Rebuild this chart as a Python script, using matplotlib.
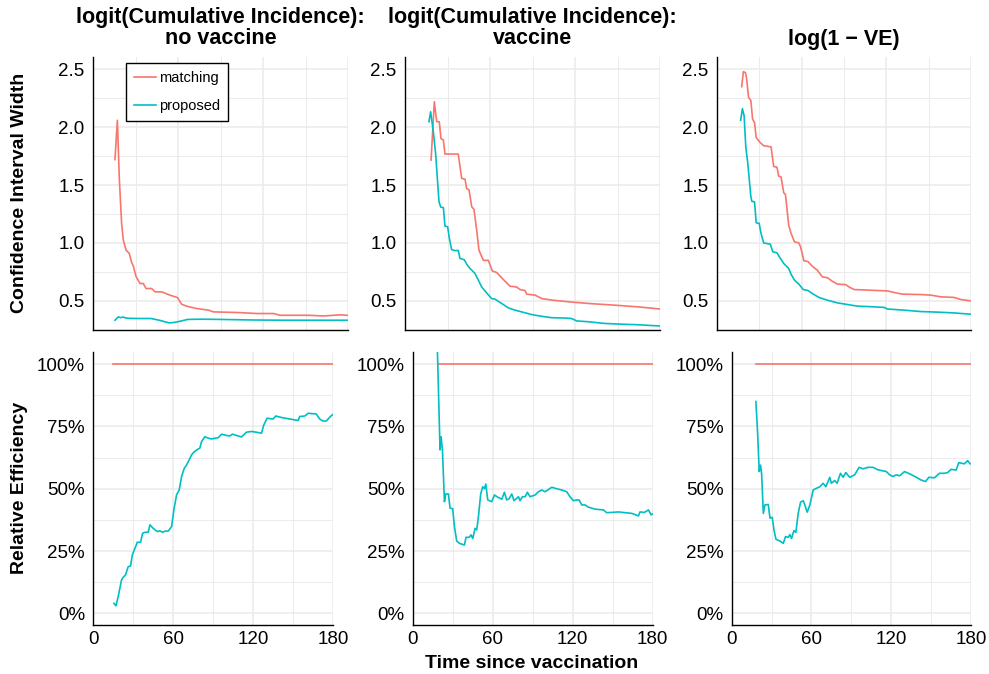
import numpy as np
import matplotlib.pyplot as plt
from matplotlib.ticker import FormatStrFormatter, PercentFormatter, MultipleLocator

plt.rcParams['font.family'] = ['Liberation Sans', 'DejaVu Sans']

RED = '#F8766D'
CYAN = '#00BFC4'

titles = ['logit(Cumulative Incidence):\nno vaccine', 'logit(Cumulative Incidence):\nvaccine', '\nlog(1 \u2212 VE)']

# CI width, no vaccine
ciw_nv_match_day = [15.5, 17.2, 18.6, 20.2, 21.4, 23.3, 25.6, 27.3, 28.5, 30.4, 33.2, 35.5, 37.4, 41.4, 43.8, 48.5,
                    54.4, 59.6, 62.6, 66.1, 73.2, 81.5, 85, 101.5, 115.6, 127.4, 132, 151, 163, 170, 175, 180]
ciw_nv_match = [1.72, 2.06, 1.55, 1.17, 1.025, 0.94, 0.91, 0.83, 0.80, 0.71, 0.65, 0.65, 0.607, 0.607, 0.578, 0.578,
                0.549, 0.529, 0.471, 0.454, 0.434, 0.42, 0.405, 0.40, 0.391, 0.391, 0.376, 0.376, 0.37, 0.376, 0.38, 0.375]
ciw_nv_prop_day = [15.5, 17.9, 19.5, 20.9, 24.5, 31.5, 40.9, 46.8, 53.8, 57.9, 62.1, 66.8, 76.2, 90, 113.6, 137, 160, 180]
ciw_nv_prop = [0.333, 0.362, 0.355, 0.36, 0.35, 0.348, 0.348, 0.333, 0.31, 0.315, 0.326, 0.34, 0.342, 0.34, 0.335,
               0.333, 0.333, 0.333]

# CI width, vaccine
ciw_v_match_day = [18.4, 20.7, 22.4, 24.2, 25.4, 27.1, 28.2, 37.6, 40, 42.4, 43.5, 45.2, 47.1, 48.7, 50.6, 52.2, 55.3,
                   58.8, 61.6, 64.7, 69.4, 74.1, 78.8, 81.2, 84.7, 85.9, 91.8, 96.5, 103.5, 117.6, 129.4, 148.2, 164.7,
                   171.8, 176.5, 180]
ciw_v_match = [1.716, 2.22, 2.047, 2.047, 1.90, 1.89, 1.768, 1.768, 1.558, 1.55, 1.47, 1.46, 1.313, 1.29, 1.11, 0.938,
               0.85, 0.85, 0.759, 0.745, 0.685, 0.627, 0.62, 0.598, 0.59, 0.558, 0.55, 0.52, 0.507, 0.49, 0.478, 0.463,
               0.448, 0.44, 0.434, 0.43]
ciw_v_prop_day = [16.9, 18.1, 20, 21.6, 24, 25.2, 27.1, 28.2, 30.1, 31.3, 32.9, 34.8, 37.6, 38.8, 41.9, 43.5, 45.9,
                  49.4, 51.8, 54.1, 57.6, 61.2, 63.5, 68.2, 72.9, 77.6, 82.4, 89.4, 96.5, 103.5, 112.9, 117.6, 121.2,
                  129.4, 141.2, 150.6, 164.7, 180]
ciw_v_prop = [2.047, 2.133, 1.96, 1.774, 1.356, 1.31, 1.305, 1.146, 1.14, 1.04, 0.944, 0.935, 0.935, 0.867, 0.855,
              0.817, 0.78, 0.737, 0.679, 0.621, 0.569, 0.52, 0.515, 0.478, 0.44, 0.42, 0.405, 0.382, 0.367, 0.355,
              0.352, 0.348, 0.327, 0.32, 0.305, 0.30, 0.294, 0.283]

# CI width, log(1 - VE)
ciw_ve_match_day = [17.5, 18.7, 20.2, 21.1, 22.3, 24, 25.2, 26.6, 27.8, 30.7, 33.1, 38.3, 40.2, 42.5, 43.7, 45.4, 47.3,
                    48.5, 50.8, 52.5, 54.9, 58, 59.2, 61.6, 64.4, 67.5, 71.1, 74.6, 78.2, 81.7, 85.3, 91.2, 93.5, 97.1,
                    109, 120.8, 125.5, 131.4, 144.4, 151.5, 158.6, 168, 172.8, 180]
ciw_ve_match = [2.35, 2.48, 2.47, 2.41, 2.26, 2.23, 2.07, 2.04, 1.91, 1.866, 1.84, 1.83, 1.66, 1.655, 1.578, 1.57,
                1.433, 1.42, 1.154, 1.083, 1.01, 1.0, 0.967, 0.846, 0.84, 0.80, 0.765, 0.708, 0.70, 0.67, 0.645, 0.64,
                0.621, 0.598, 0.592, 0.586, 0.573, 0.558, 0.555, 0.55, 0.535, 0.53, 0.512, 0.50]
ciw_ve_prop_day = [16.8, 18, 19.2, 20.4, 21.8, 24, 24.7, 26.6, 27.8, 29.9, 31.1, 33.1, 37.8, 39.5, 42.5, 44.9, 47.3,
                   50.8, 52.5, 54.9, 58, 61.1, 64.4, 67.5, 72.2, 78.2, 85.3, 92.3, 99.4, 108.9, 118.4, 120.8, 132.6,
                   144.4, 156.2, 168, 180]
ciw_ve_prop = [2.06, 2.16, 2.1, 1.83, 1.69, 1.40, 1.36, 1.355, 1.174, 1.17, 1.088, 1.0, 0.99, 0.924, 0.915, 0.867,
               0.823, 0.78, 0.73, 0.679, 0.645, 0.598, 0.59, 0.564, 0.53, 0.506, 0.483, 0.469, 0.455, 0.45, 0.444,
               0.43, 0.42, 0.408, 0.403, 0.396, 0.385]

# relative efficiency (matching = 100%)
re_match_day = [[15, 180], [19.2, 180], [18.2, 180]]
re_match = [1.0, 1.0]

re_nv_day = [15.5, 17, 18.7, 21.2, 22.5, 24.2, 26.2, 28, 29.3, 31.3, 33, 35.5, 37, 38.8, 41.3, 42.5, 45, 48, 50, 52,
             53.8, 56.3, 58.8, 60.5, 62.5, 64.5, 66.3, 68.3, 70, 72, 73.8, 75.5, 78, 80, 81.3, 83.8, 86.3, 88.8, 93.8,
             96.3, 100, 102.5, 104.5, 107.5, 111.3, 115, 118.8, 122.5, 126.3, 128, 130.5, 135, 137, 141.3, 153.8,
             155, 158.8, 161.3, 167.5, 170, 172.5, 175, 177.5, 179.5]
re_nv = [0.04, 0.03, 0.067, 0.134, 0.145, 0.154, 0.187, 0.19, 0.234, 0.261, 0.285, 0.285, 0.321, 0.325, 0.326, 0.355,
         0.341, 0.328, 0.331, 0.325, 0.33, 0.33, 0.348, 0.415, 0.475, 0.495, 0.549, 0.582, 0.595, 0.616, 0.636, 0.647,
         0.657, 0.663, 0.689, 0.709, 0.703, 0.70, 0.705, 0.719, 0.714, 0.712, 0.719, 0.714, 0.708, 0.727, 0.73,
         0.727, 0.723, 0.756, 0.783, 0.78, 0.792, 0.786, 0.774, 0.79, 0.792, 0.803, 0.80, 0.78, 0.772, 0.772, 0.787,
         0.797]

re_v_day = [17, 18.5, 20.5, 21.3, 22.3, 23.8, 24.8, 26.8, 28, 30, 31.3, 33, 35, 38.8, 40, 42.3, 43.8, 45, 46.8, 48,
            49.3, 51, 52.5, 53.8, 54.8, 56.3, 59.3, 61.3, 63.8, 66.8, 68.8, 70.5, 72.3, 74.3, 76, 79.3, 80.5, 82.3,
            84.3, 86, 88, 91.8, 94.3, 96.8, 99.3, 101.8, 104.3, 108, 111.8, 115.5, 118, 120.5, 123, 124.8, 126.8,
            129.3, 131.8, 136.8, 143, 145.5, 149.3, 154.3, 159.3, 164.3, 169.3, 170.5, 173.8, 176.8, 178.8, 180]
re_v = [1.3, 1.06, 0.656, 0.709, 0.656, 0.448, 0.479, 0.479, 0.422, 0.42, 0.348, 0.29, 0.281, 0.274, 0.305, 0.305,
        0.315, 0.30, 0.341, 0.335, 0.388, 0.479, 0.508, 0.50, 0.519, 0.455, 0.448, 0.475, 0.466, 0.458, 0.486, 0.455,
        0.46, 0.479, 0.452, 0.468, 0.452, 0.468, 0.468, 0.486, 0.468, 0.475, 0.488, 0.495, 0.488, 0.497, 0.506,
        0.50, 0.495, 0.488, 0.468, 0.452, 0.455, 0.455, 0.435, 0.435, 0.426, 0.418, 0.415, 0.404, 0.405, 0.407,
        0.404, 0.401, 0.391, 0.407, 0.405, 0.415, 0.395, 0.399]

re_ve_day = [18.2, 19.5, 20.7, 21.7, 22.5, 23.8, 25, 27.5, 28.8, 30.5, 31.8, 33.3, 36.3, 38.8, 40.5, 42.5, 43.8, 45,
             46.8, 48.3, 50, 51.8, 53.8, 55, 56.8, 58.8, 61.3, 63.8, 66.3, 68.8, 70.8, 73.8, 75, 77.5, 79.3, 81.8,
             83.8, 85.8, 88.8, 92.5, 95.8, 98.8, 102.5, 106.3, 110, 116.3, 118.8, 121.3, 123.8, 126.3, 130, 133.8,
             138.8, 142.5, 145.8, 148.3, 152.5, 156.3, 160, 162.5, 165, 168.8, 170.8, 175, 177.5, 179.3]
re_ve = [0.85, 0.723, 0.569, 0.595, 0.56, 0.401, 0.435, 0.437, 0.382, 0.385, 0.334, 0.297, 0.29, 0.281, 0.308, 0.305,
         0.316, 0.30, 0.332, 0.325, 0.401, 0.446, 0.452, 0.435, 0.406, 0.435, 0.495, 0.502, 0.508, 0.522, 0.508,
         0.546, 0.522, 0.533, 0.522, 0.562, 0.546, 0.565, 0.546, 0.556, 0.586, 0.58, 0.586, 0.586, 0.576, 0.569,
         0.556, 0.549, 0.556, 0.552, 0.569, 0.56, 0.546, 0.535, 0.529, 0.546, 0.544, 0.562, 0.562, 0.565, 0.578,
         0.575, 0.605, 0.6, 0.613, 0.6]

top_data = [(ciw_nv_match_day, ciw_nv_match, ciw_nv_prop_day, ciw_nv_prop),
            (ciw_v_match_day, ciw_v_match, ciw_v_prop_day, ciw_v_prop),
            (ciw_ve_match_day, ciw_ve_match, ciw_ve_prop_day, ciw_ve_prop)]
bottom_data = [(re_nv_day, re_nv), (re_v_day, re_v), (re_ve_day, re_ve)]

W, H = 989, 674
fig = plt.figure(figsize=(W / 100, H / 100), dpi=100)


def px_axes(x1, y1, x2, y2):
    return fig.add_axes([x1 / W, 1 - y2 / H, (x2 - x1) / W, (y2 - y1) / H])


def style(ax):
    for s in ['top', 'right']:
        ax.spines[s].set_visible(False)
    for s in ['left', 'bottom']:
        ax.spines[s].set_linewidth(1.0)
        ax.spines[s].set_color('black')
    ax.set_xlim(0, 180)
    ax.xaxis.set_major_locator(MultipleLocator(60))
    ax.xaxis.set_minor_locator(MultipleLocator(30))
    ax.grid(which='major', color='#ebebeb', lw=1.1)
    ax.grid(which='minor', color='#ebebeb', lw=0.7)
    ax.set_axisbelow(True)
    ax.tick_params(which='both', length=0, labelsize=13.5, colors='black')
    ax.tick_params(axis='y', pad=6)
    ax.tick_params(axis='x', pad=4)


top_x = [(93, 348), (405, 660), (717, 971)]
bot_x = [(93.3, 333), (412.7, 652.7), (731.7, 971)]

for i in range(3):
    ax = px_axes(top_x[i][0], 57, top_x[i][1], 329.5)
    style(ax)
    md, mv, pd_, pv = top_data[i]
    ax.plot(md, mv, color=RED, lw=1.2, label='matching')
    ax.plot(pd_, pv, color=CYAN, lw=1.2, label='proposed')
    ax.set_ylim(0.253, 2.606)
    ax.yaxis.set_major_locator(MultipleLocator(0.5))
    ax.yaxis.set_minor_locator(MultipleLocator(0.25))
    ax.yaxis.set_major_formatter(FormatStrFormatter('%.1f'))
    ax.tick_params(axis='x', labelbottom=False)
    ax.set_title(titles[i], fontsize=15.5, fontweight='bold', linespacing=1.0, pad=9)
    if i == 0:
        leg = ax.legend(loc='upper left', bbox_to_anchor=(0.128, 0.979), borderaxespad=0, fontsize=10.5,
                        fancybox=False, edgecolor='black', framealpha=1, handlelength=1.5, handletextpad=0.25,
                        labelspacing=1.0, borderpad=0.55)
        leg.get_frame().set_linewidth(1.0)

for i in range(3):
    ax = px_axes(bot_x[i][0], 352, bot_x[i][1], 625)
    style(ax)
    ax.plot(re_match_day[i], re_match, color=RED, lw=1.2)
    ax.plot(bottom_data[i][0], bottom_data[i][1], color=CYAN, lw=1.2)
    ax.set_ylim(-0.047, 1.049)
    ax.yaxis.set_major_locator(MultipleLocator(0.25))
    ax.yaxis.set_minor_locator(MultipleLocator(0.125))
    ax.yaxis.set_major_formatter(PercentFormatter(1.0, decimals=0))

fig.text(20 / W, 1 - 193 / H, 'Confidence Interval Width', rotation=90, ha='center', va='center',
         fontsize=14, fontweight='bold')
fig.text(20 / W, 1 - 488 / H, 'Relative Efficiency', rotation=90, ha='center', va='center',
         fontsize=14, fontweight='bold')
fig.text(532 / W, 1 - 663 / H, 'Time since vaccination', ha='center', va='center', fontsize=14, fontweight='bold')

plt.savefig('out.png', dpi=100)
